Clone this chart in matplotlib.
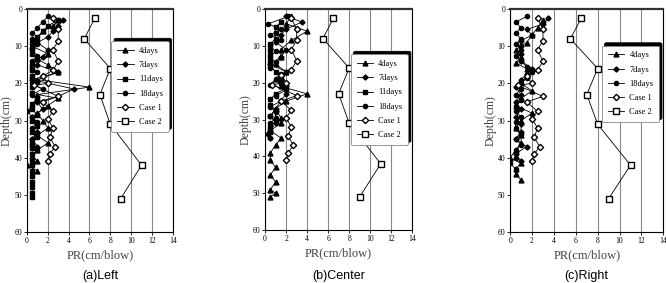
import matplotlib.pyplot as plt

plt.rcParams['font.family'] = ['Liberation Serif', 'DejaVu Serif']

# Case 1 / Case 2 are the same on all three panels
case1_d = [2.5, 5.5, 8.5, 11, 14, 16.5, 18, 20, 20.5, 23.5, 25, 27.5, 29.5, 32, 34.5, 37, 39, 41]
case1_pr = [2.5, 3, 3, 2.5, 3, 2.5, 1.5, 2, 0.7, 3, 1.5, 2.5, 2, 2.5, 2.2, 2.7, 2.2, 2]
case2_d = [2.5, 8, 16, 23, 31, 42, 51]
case2_pr = [6.5, 5.5, 8, 7, 8, 11, 9]

# (a) Left
a4_d = [3, 4.5, 6, 8, 10, 12, 13.5, 15, 17, 19, 21, 23, 24, 26, 28, 30, 32, 34, 36, 38, 39.5, 41, 42, 43.5]
a4_pr = [3, 2.5, 1.5, 1, 0.5, 2, 1, 2, 3, 1, 6, 1, 3, 2, 1, 1.5, 2, 1, 2, 1, 0.5, 1, 0, 1]
a7_d = [3, 4.5, 6, 7.5, 9, 11, 13, 15, 17, 19, 21.5, 23.5, 25, 27, 29, 31, 33, 35, 37]
a7_pr = [3.5, 3, 2.5, 2, 1, 2, 1.5, 1, 3, 0.5, 4.5, 3, 1, 1.5, 0.5, 1, 1, 0.5, 1]
a11_d = [3, 4.5, 6, 7.5, 9, 10.5, 12, 13.5, 15, 16.5, 18, 19.5, 21, 22.5, 24, 25.5, 27, 28.5,
         30, 31.5, 33, 34.5, 36, 37.5, 39, 40.5, 42, 43.5, 45, 46.5, 48, 49.5, 50.5]
a11_pr = [3, 2, 1.5, 1, 0.5, 0.5, 0.5, 1, 0.5, 0.5, 0.5, 1, 0.5, 0.5, 1, 0.5, 0.5, 1,
          0.5, 1, 0.5, 1, 0.5, 0.5, 0.5, 0.5, 0.5, 0.5, 0.5, 0.5, 0.5, 0.5, 0.5]
a18_d = [2, 3.5, 5, 6.5, 8, 9.5, 11, 12.5, 14, 15.5, 17, 18.5, 20, 21.5, 23, 24.5, 26, 27.5,
         29, 30.5, 32, 33.5, 35, 36.5, 38]
a18_pr = [2, 1.5, 1, 0.5, 0.5, 1, 0.5, 1, 0.5, 0.5, 1, 0.5, 0.5, 1.5, 0.5, 1, 0.5, 0,
          0.5, 1, 0.5, 1, 0.5, 0.5, 1]

# (b) Center
b4_d = [2, 4, 6, 8.5, 11, 13, 15, 17, 19, 21, 23, 25, 27, 29.5, 31, 33, 35, 37, 39, 41, 43, 45, 47, 49, 50, 51]
b4_pr = [2.5, 2, 4, 2.5, 1.5, 1.5, 1, 2, 1, 1.5, 4, 2, 1, 1.5, 1.5, 0.5, 1.5, 1, 0.5, 0.5, 1, 0.5, 1, 0.5, 1, 0.5]
b7_d = [2, 3.5, 5.5, 7, 9, 11, 13, 15, 17, 19, 21, 23, 25, 27, 29, 31, 33, 35]
b7_pr = [2, 3.5, 2, 1.5, 1, 2, 1.5, 0.5, 2, 1.5, 2, 2, 1.5, 1, 0.5, 1, 0.5, 0.5]
b11_d = [3.5, 5, 6.5, 8, 9.5, 11, 12.5, 14, 15.5, 17, 18.5, 20, 21.5, 23, 24.5, 26, 27.5, 29, 30.5, 32, 33.5]
b11_pr = [1.5, 1, 1, 1, 0.5, 0.5, 0.5, 0.5, 0.5, 1, 1.5, 1.5, 2, 1, 0.5, 0.5, 1, 0.5, 1, 0.5, 0.5]
b18_d = [2, 4, 5.5, 7, 8.5, 10, 11.5, 13, 14.5, 16, 17.5, 19, 20.5, 22, 23.5, 25, 26.5, 28, 29.5, 31, 32.5, 34, 35]
b18_pr = [2.2, 0.3, 1.5, 0.5, 1.5, 0.5, 1, 0.5, 1, 0.5, 1.5, 1, 0.5, 2, 1, 1.5, 0.5, 1, 1, 0.5, 0.5, 0.3, 0.5]

# (c) Right (no 11days)
c4_d = [3, 5, 7, 9, 11, 13, 14.5, 16, 18, 20, 22, 24, 26, 28, 30, 32, 34, 36, 38, 40, 41.5, 43, 44.5, 46]
c4_pr = [3, 2.5, 2, 1.5, 0.5, 1, 0.5, 1.5, 1.5, 1, 2, 1, 0.5, 2, 1, 0.5, 1, 1, 0.5, 0, 1, 0.5, 0.5, 1]
c7_d = [2.5, 4, 5.5, 7, 8.5, 10, 12, 14, 16, 17.5, 19, 21, 23, 25, 27, 29, 31, 33, 35, 37, 39, 41]
c7_pr = [3.5, 3, 1.5, 2, 1, 1, 1, 1, 2, 1.5, 1, 0.5, 1, 0.5, 1, 0.5, 1, 1, 0.5, 1.5, 0.5, 1]
c18_d = [2, 3.5, 5, 6.5, 8, 9.5, 11, 12.5, 14, 15.5, 17, 18.5, 20, 21.5, 23, 24.5, 26, 27.5,
         29, 30.5, 32, 33.5, 35, 36.5, 38, 40, 41.5, 43]
c18_pr = [1.5, 0.5, 1, 0.5, 1, 0.5, 1, 0.5, 1, 1.5, 2, 1.5, 1, 1, 0.5, 1, 0.5, 0.5,
          1, 0.5, 0.5, 1, 0.5, 1, 0.5, 0.5, 0, 0.5]

panels = [
    ('(a)Left', [0.0405, 0.180, 0.219, 0.788], (1.0, 0.875),
     [('4days', a4_pr, a4_d), ('7days', a7_pr, a7_d), ('11days', a11_pr, a11_d), ('18days', a18_pr, a18_d)]),
    ('(b)Center', [0.398, 0.187, 0.221, 0.781], (1.0, 0.815),
     [('4days', b4_pr, b4_d), ('7days', b7_pr, b7_d), ('11days', b11_pr, b11_d), ('18days', b18_pr, b18_d)]),
    ('(c)Right', [0.766, 0.180, 0.230, 0.788], (1.0, 0.855),
     [('4days', c4_pr, c4_d), ('7days', c7_pr, c7_d), ('18days', c18_pr, c18_d)]),
]

styles = {
    '4days': dict(marker='^', ms=3.5),
    '7days': dict(marker='D', ms=2.6),
    '11days': dict(marker='s', ms=3),
    '18days': dict(marker='o', ms=3),
}

fig = plt.figure(figsize=(6.66, 2.83), dpi=100)

for title, pos, anchor, series in panels:
    ax = fig.add_axes(pos)
    for name, pr, d in series:
        ax.plot(pr, d, color='black', lw=0.6, mfc='black', mec='black', label=name, **styles[name])
    ax.plot(case1_pr, case1_d, color='black', lw=0.6, marker='D', ms=3.2,
            mfc='white', mec='black', label='Case 1')
    ax.plot(case2_pr, case2_d, color='black', lw=0.6, marker='s', ms=4,
            mfc='white', mec='black', label='Case 2')

    ax.set_xlim(0, 14)
    ax.set_ylim(60, 0)
    ax.set_xticks(range(0, 15, 2))
    ax.set_yticks(range(0, 61, 10))
    ax.grid(axis='x', color='#888888', lw=0.8)
    ax.tick_params(labelsize=5.5, length=2, width=0.6, pad=1.5)
    for s in ax.spines.values():
        s.set_linewidth(0.8)
    ax.spines['top'].set_linewidth(1.6)
    ax.spines['top'].set_color('#333333')
    ax.set_xlabel('PR(cm/blow)', fontsize=9, labelpad=3, color='#444444')
    ax.set_ylabel('Depth(cm)', fontsize=8.5, labelpad=1, color='#444444')

    leg = ax.legend(loc='upper right', bbox_to_anchor=anchor, fontsize=6,
                    frameon=True, fancybox=True, framealpha=1,
                    edgecolor='#888888', handlelength=2.0, labelspacing=0.75,
                    borderpad=0.7, handletextpad=0.6,
                    shadow={'ox': 2, 'oy': 2, 'color': 'black', 'alpha': 1})
    leg.get_frame().set_linewidth(0.6)

    x_mid = pos[0] + pos[2] / 2
    fig.text(x_mid, 0.005, title, ha='center', va='bottom', fontsize=9,
             family=['Liberation Sans', 'DejaVu Sans'])

fig.savefig('out.png', dpi=100)
